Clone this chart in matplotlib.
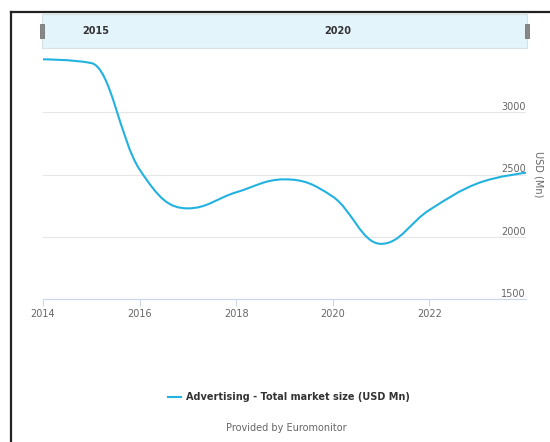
import numpy as np
import matplotlib.pyplot as plt
from matplotlib.path import Path
from matplotlib.patches import PathPatch, Rectangle
from matplotlib.lines import Line2D

# Advertising - total market size, USD Mn
years = [2014, 2015, 2016, 2017, 2018, 2019, 2020, 2021, 2022, 2023, 2024]
values = [3425, 3395, 2540, 2228, 2357, 2461, 2322, 1943, 2215, 2429, 2514]
x_ticks = [2014, 2016, 2018, 2020, 2022]
y_ticks = [1500, 2000, 2500, 3000]
nav_labels = ["2015", "2020"]
nav_label_years = [2015, 2020]

line_color = "#22b2e0"


def spline_path(xs, ys, smoothing=1.5):
    """Highcharts-style spline as cubic bezier segments."""
    xs = np.asarray(xs, float)
    ys = np.asarray(ys, float)
    n = len(xs)
    denom = smoothing + 1
    left = [None] * n
    right = [None] * n
    for i in range(1, n - 1):
        lx = (smoothing * xs[i] + xs[i - 1]) / denom
        ly = (smoothing * ys[i] + ys[i - 1]) / denom
        rx = (smoothing * xs[i] + xs[i + 1]) / denom
        ry = (smoothing * ys[i] + ys[i + 1]) / denom
        corr = (ry - ly) * (rx - xs[i]) / (rx - lx) + ys[i] - ry
        ly += corr
        ry += corr
        # keep control points from overshooting
        if ly > max(ys[i - 1], ys[i]):
            ly = max(ys[i - 1], ys[i]); ry = 2 * ys[i] - ly
        elif ly < min(ys[i - 1], ys[i]):
            ly = min(ys[i - 1], ys[i]); ry = 2 * ys[i] - ly
        if ry > max(ys[i + 1], ys[i]):
            ry = max(ys[i + 1], ys[i]); ly = 2 * ys[i] - ry
        elif ry < min(ys[i + 1], ys[i]):
            ry = min(ys[i + 1], ys[i]); ly = 2 * ys[i] - ry
        left[i] = (lx, ly)
        right[i] = (rx, ry)
    verts = [(xs[0], ys[0])]
    codes = [Path.MOVETO]
    for i in range(1, n):
        c1 = right[i - 1] if right[i - 1] is not None else (xs[i - 1], ys[i - 1])
        c2 = left[i] if left[i] is not None else (xs[i], ys[i])
        verts += [c1, c2, (xs[i], ys[i])]
        codes += [Path.CURVE4] * 3
    return Path(verts, codes)


fig = plt.figure(figsize=(5.5, 4.42), dpi=100)
plt.rcParams['font.family'] = ['DejaVu Sans']

# main plot
ax = fig.add_axes([43 / 550, 1 - 299 / 442, 483 / 550, 249 / 442])
ax.set_xlim(2014, 2024)
ax.set_ylim(1500, 3500)
ax.add_patch(PathPatch(spline_path(years, values), facecolor="none",
                       edgecolor=line_color, lw=1.5, capstyle="round", zorder=3))

for s in ["top", "left", "right"]:
    ax.spines[s].set_visible(False)
ax.spines["bottom"].set_color("#ccd6eb")
ax.spines["bottom"].set_linewidth(0.8)

ax.set_xticks(x_ticks)
ax.set_xticklabels([str(t) for t in x_ticks])
ax.tick_params(axis="x", length=5, width=0.8, color="#ccd6eb",
               labelsize=7, labelcolor="#666666", pad=2)

ax.set_yticks(y_ticks)
ax.tick_params(axis="y", length=0, labelleft=False)
for v in y_ticks:
    ax.axhline(v, color="#e6e6e6", lw=0.8, zorder=1)
    ax.text(2024, v, str(v), ha="right", va="bottom", fontsize=7,
            color="#666666")
ax.text(1.025, 0.5, "USD (Mn)", transform=ax.transAxes, rotation=270,
        ha="center", va="center", fontsize=7, color="#666666")

# navigator
nav = fig.add_axes([42 / 550, 1 - 48 / 442, 485 / 550, 34 / 442])
nav.set_xlim(2014, 2024)
nav.set_ylim(0, 1)
nav.set_facecolor("#e3f4fb")
for s in nav.spines.values():
    s.set_color("#d8e0e6")
    s.set_linewidth(0.8)
nav.set_xticks([])
nav.set_yticks([])
for lab, yr in zip(nav_labels, nav_label_years):
    nav.text(yr + 0.1, 0.5, lab, ha="center", va="center", fontsize=7,
             fontweight="bold", color="#333333")
for xh in [2014, 2024]:
    nav.add_patch(Rectangle((xh - 0.04, 0.3), 0.08, 0.42, facecolor="#888888",
                            edgecolor="#666666", lw=0.5, clip_on=False, zorder=5))

# legend and credit
fig.add_artist(Line2D([168 / 550, 181 / 550], [1 - 397 / 442] * 2,
                      color=line_color, lw=1.5))
fig.text(186 / 550, 1 - 397 / 442, "Advertising - Total market size (USD Mn)",
         ha="left", va="center", fontsize=7, fontweight="bold", color="#333333")
fig.text(286 / 550, 1 - 428 / 442, "Provided by Euromonitor", ha="center",
         va="center", fontsize=7, color="#666666")

# frame
fig.add_artist(Line2D([11 / 550, 11 / 550], [0, 1 - 12 / 442], color="#222222", lw=1.6))
fig.add_artist(Line2D([11 / 550, 1], [1 - 12 / 442] * 2, color="#222222", lw=1.6))

fig.savefig("out.png", dpi=100)
